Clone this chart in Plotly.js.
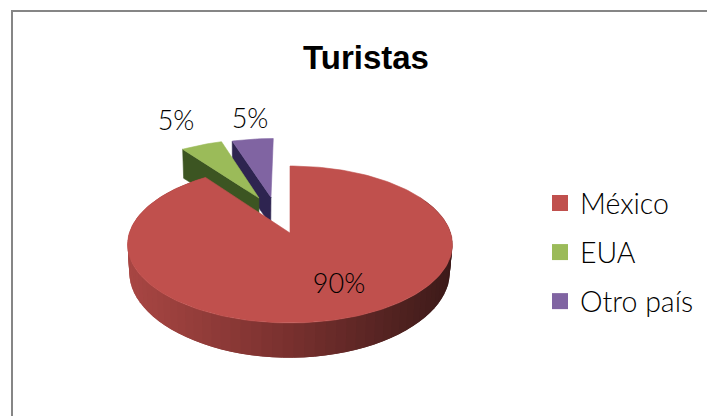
<!DOCTYPE html>
<html><head><meta charset="utf-8">
<script src="https://cdn.plot.ly/plotly-3.0.1.min.js"></script>
<style>html,body{margin:0;padding:0;background:#fff}#c{width:707px;height:416px}</style>
</head><body><div id="c"></div>
<script>
const titleText = 'Turistas';
const categories = ['México', 'EUA', 'Otro país'];
const values = [90, 5, 5];
const topColors = ['#C0504D', '#9BBB59', '#8064A2'];
const wallColors = ['#7a3230', '#3c5522', '#2e2450'];
const labelFont = 'Lato, sans-serif';

// explosion of each slice, in units of the pie radius (x across, y away from viewer)
const explode = [[0, 0], [-0.207, 0.488], [-0.127, 0.5]];
const labelAt = [[339, 286], [176, 123], [250, 121]];

// Perspective projection of the pie plane (top face and base face)
function topFace(X, Y) { const w = 1 + 0.1465 * Y; return [290 + 160.7 * X / w, 233 - 76.8 * Y / w]; }
function baseFace(X, Y) { return [289.5 + 158.5 * X / (1 + 0.1465 * Y), 261 - 79 * Y / (1 + 0.184 * Y)]; }

const total = values.reduce((a, b) => a + b, 0);
let cum = 0;
const slices = values.map((v, i) => {
  const a0 = cum / total * 2 * Math.PI; cum += v;
  return { i, a0, a1: cum / total * 2 * Math.PI, ex: explode[i] };
});
function rim(face, s, a0, a1, n) {
  const pts = [];
  for (let k = 0; k <= n; k++) {
    const a = a0 + (a1 - a0) * k / n;
    pts.push(face(s.ex[0] + Math.sin(a), s.ex[1] + Math.cos(a)));
  }
  return pts;
}
function poly(pts, color, lw) {
  return { type: 'scatter', mode: 'lines', x: pts.map(p => p[0]).concat(pts[0][0]), y: pts.map(p => p[1]).concat(pts[0][1]),
    fill: 'toself', fillcolor: color, line: { color: color, width: lw }, showlegend: false, hoverinfo: 'skip' };
}
function topPoly(s) {
  const n = Math.max(8, Math.round((s.a1 - s.a0) * 40));
  return poly([topFace(s.ex[0], s.ex[1])].concat(rim(topFace, s, s.a0, s.a1, n)), topColors[s.i], 0.6);
}
function cutWall(s) {
  const c = s.ex, o = [s.ex[0] + Math.sin(s.a0), s.ex[1] + Math.cos(s.a0)];
  return poly([topFace(c[0], c[1]), topFace(o[0], o[1]), baseFace(o[0], o[1]), baseFace(c[0], c[1])], wallColors[s.i], 0.6);
}
function shade(x) {
  const stops = [[128, [168, 70, 67]], [290, [120, 48, 46]], [453, [60, 26, 25]]];
  const j = x < 290 ? 0 : 1, t = Math.min(1, Math.max(0, (x - stops[j][0]) / (stops[j + 1][0] - stops[j][0])));
  const c = stops[j][1].map((v, q) => Math.round(v + (stops[j + 1][1][q] - v) * t));
  return `rgb(${c.join(',')})`;
}

const traces = [];
// back slices first
[slices[2], slices[1]].forEach(s => {
  traces.push(cutWall(s));
  traces.push(topPoly(s));
});
// main slice: side wall as overlapping shaded strips, then its top
const m = slices[0], strips = 80, startA = Math.PI / 3, endA = m.a1;
for (let k = 0; k < strips; k++) {
  const a0 = startA + (endA - startA) * k / strips, a1 = startA + (endA - startA) * (k + 2) / strips;
  const t = rim(topFace, m, a0, Math.min(a1, endA), 3), b = rim(baseFace, m, a0, Math.min(a1, endA), 3);
  traces.push(poly(t.concat(b.reverse()), shade(t[1][0]), 0));
}
traces.push(topPoly(m));

// percentage labels, derived from the values
traces.push({ type: 'scatter', mode: 'text', x: labelAt.map(p => p[0]), y: labelAt.map(p => p[1]),
  text: values.map(v => Math.round(v / total * 100) + '%'), textposition: 'middle center',
  textfont: { family: labelFont, size: 27, weight: 300, color: '#000' }, showlegend: false, hoverinfo: 'skip' });

// legend entries
categories.forEach((c, i) => traces.push({ type: 'scatter', mode: 'markers', x: [null], y: [null], name: c, legendgroup: c,
  marker: { symbol: 'square', size: 16, color: topColors[i] }, hoverinfo: 'skip' }));

const layout = {
  width: 707, height: 416, margin: { l: 0, r: 0, t: 0, b: 0 }, paper_bgcolor: '#fff', plot_bgcolor: '#fff',
  title: { text: '<b>' + titleText + '</b>', x: 366 / 707, xanchor: 'center', y: 1 - 57 / 416, yanchor: 'middle',
    font: { family: 'Liberation Sans, Arial, sans-serif', size: 33, color: '#000' } },
  xaxis: { range: [0, 707], visible: false, fixedrange: true },
  yaxis: { range: [416, 0], visible: false, fixedrange: true },
  showlegend: true,
  legend: { x: 540 / 707, xanchor: 'left', y: 1 - 178 / 416, yanchor: 'top', tracegroupgap: 9, itemwidth: 30,
    font: { family: labelFont, size: 28.5, weight: 300, color: '#000' }, bgcolor: 'rgba(0,0,0,0)' },
  shapes: [
    { type: 'line', xref: 'x', yref: 'y', x0: 12, x1: 707, y0: 11, y1: 11, line: { color: '#868686', width: 2 } },
    { type: 'line', xref: 'x', yref: 'y', x0: 12, x1: 12, y0: 10, y1: 416, line: { color: '#868686', width: 2 } }
  ]
};
Plotly.newPlot('c', traces, layout, { displayModeBar: false, staticPlot: true });
</script></body></html>
